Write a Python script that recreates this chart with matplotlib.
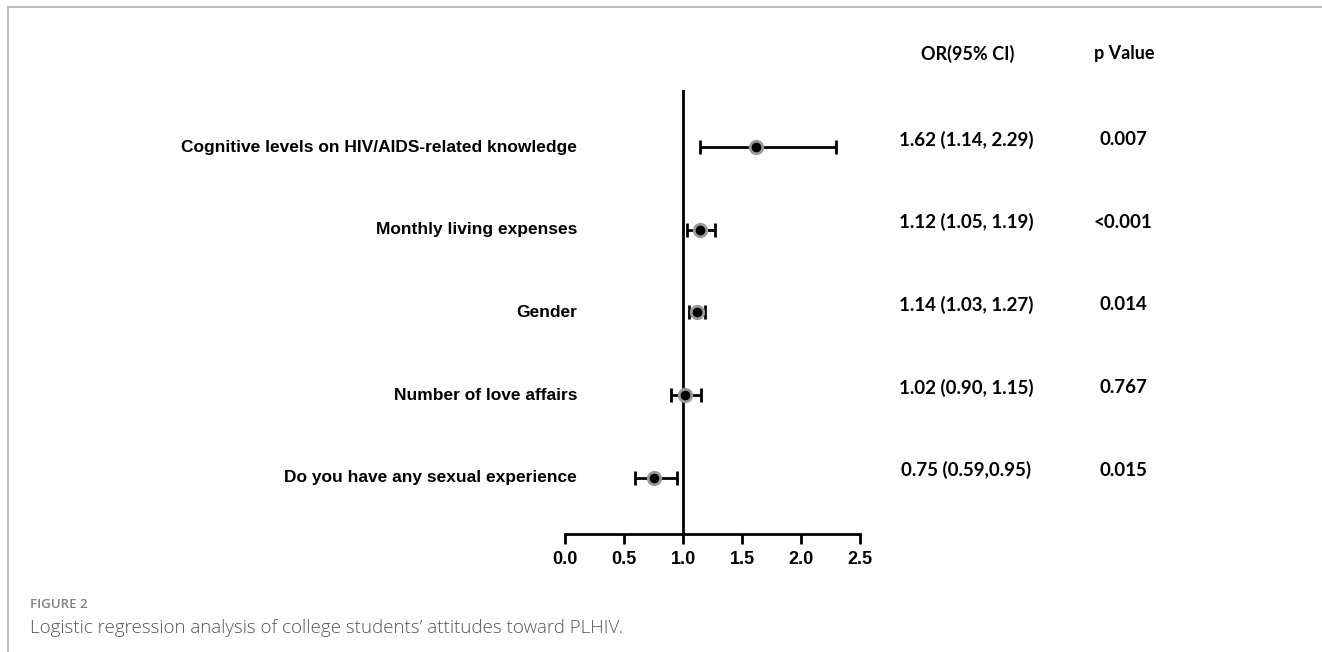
import matplotlib
matplotlib.use("Agg")
import matplotlib.pyplot as plt
import matplotlib.transforms as mtransforms
from matplotlib.lines import Line2D

# rows, top to bottom
labels = [
    "Cognitive levels on HIV/AIDS-related knowledge",
    "Monthly living expenses",
    "Gender",
    "Number of love affairs",
    "Do you have any sexual experience",
]
# values as drawn in the plot
or_est = [1.62, 1.14, 1.12, 1.02, 0.75]
ci_low = [1.14, 1.03, 1.05, 0.90, 0.59]
ci_high = [2.30, 1.27, 1.19, 1.15, 0.95]
# table text
or_text = ["1.62 (1.14, 2.29)", "1.12 (1.05, 1.19)", "1.14 (1.03, 1.27)",
           "1.02 (0.90, 1.15)", "0.75 (0.59,0.95)"]
p_text = ["0.007", "<0.001", "0.014", "0.767", "0.015"]
xticks = [0.0, 0.5, 1.0, 1.5, 2.0, 2.5]

W, H = 1322, 652
fig = plt.figure(figsize=(W / 100, H / 100), dpi=100, facecolor="white")

# axes placed in pixel terms
x0, x1 = 565, 860
y_top, y_bot = 90, 534
ax = fig.add_axes([x0 / W, 1 - y_bot / H, (x1 - x0) / W, (y_bot - y_top) / H])
ax.set_xlim(0, 2.5)
ax.set_ylim(len(labels) - 1 + 0.68, -0.69)

ypos = list(range(len(labels)))
xerr = [[e - l for e, l in zip(or_est, ci_low)], [h - e for e, h in zip(or_est, ci_high)]]
ax.errorbar(or_est, ypos, xerr=xerr, fmt="none", ecolor="black", elinewidth=2,
            capsize=5, capthick=2, zorder=3)
ax.plot(or_est, ypos, "o", ms=9, mfc="black", mec="#9a9a9a", mew=2, zorder=4, ls="none")

ax.axvline(1.0, color="black", lw=2, zorder=2)

for s in ["left", "right", "top"]:
    ax.spines[s].set_visible(False)
ax.spines["bottom"].set_linewidth(2)
ax.set_yticks([])
ax.set_xticks(xticks)
ax.set_xticklabels([f"{t:.1f}" for t in xticks], fontsize=13, fontweight="bold",
                   family="Liberation Sans")
ax.tick_params(axis="x", direction="out", length=7, width=2, pad=5)

# row labels and table columns
trans = mtransforms.blended_transform_factory(fig.transFigure, ax.transData)
for i, lab in enumerate(labels):
    ax.text(577 / W, i, lab, transform=trans, ha="right", va="center",
            fontsize=12.5, fontweight="bold", family="Liberation Sans", clip_on=False)
    ax.text(966 / W, i - 0.09, or_text[i], transform=trans, ha="center", va="center",
            fontsize=13.5, fontweight="bold", family="Lato", clip_on=False)
    ax.text(1123 / W, i - 0.09, p_text[i], transform=trans, ha="center", va="center",
            fontsize=13.5, fontweight="bold", family="Lato", clip_on=False)

fig.text(968 / W, 1 - 54 / H, "OR(95% CI)", ha="center", va="center",
         fontsize=13, fontweight="bold", family="Lato")
fig.text(1124 / W, 1 - 54 / H, "p Value", ha="center", va="center",
         fontsize=13, fontweight="bold", family="Lato")

# frame lines of the page
fig.add_artist(Line2D([8 / W, 1], [1 - 7 / H, 1 - 7 / H], transform=fig.transFigure,
                      color="#bdbdbd", lw=1.5))
fig.add_artist(Line2D([8 / W, 8 / W], [0, 1 - 7 / H], transform=fig.transFigure,
                      color="#bdbdbd", lw=1.5))

# caption
fig.text(30 / W, 1 - 605 / H, "FIGURE 2", ha="left", va="center",
         fontsize=9.5, color="#808080", family="Open Sans", fontweight="semibold")
fig.text(30 / W, 1 - 628 / H,
         "Logistic regression analysis of college students\u2019 attitudes toward PLHIV.",
         ha="left", va="center", fontsize=13.5, color="#555555", family="Open Sans",
         fontweight="light")

fig.savefig("out.png", dpi=100, facecolor="white")
